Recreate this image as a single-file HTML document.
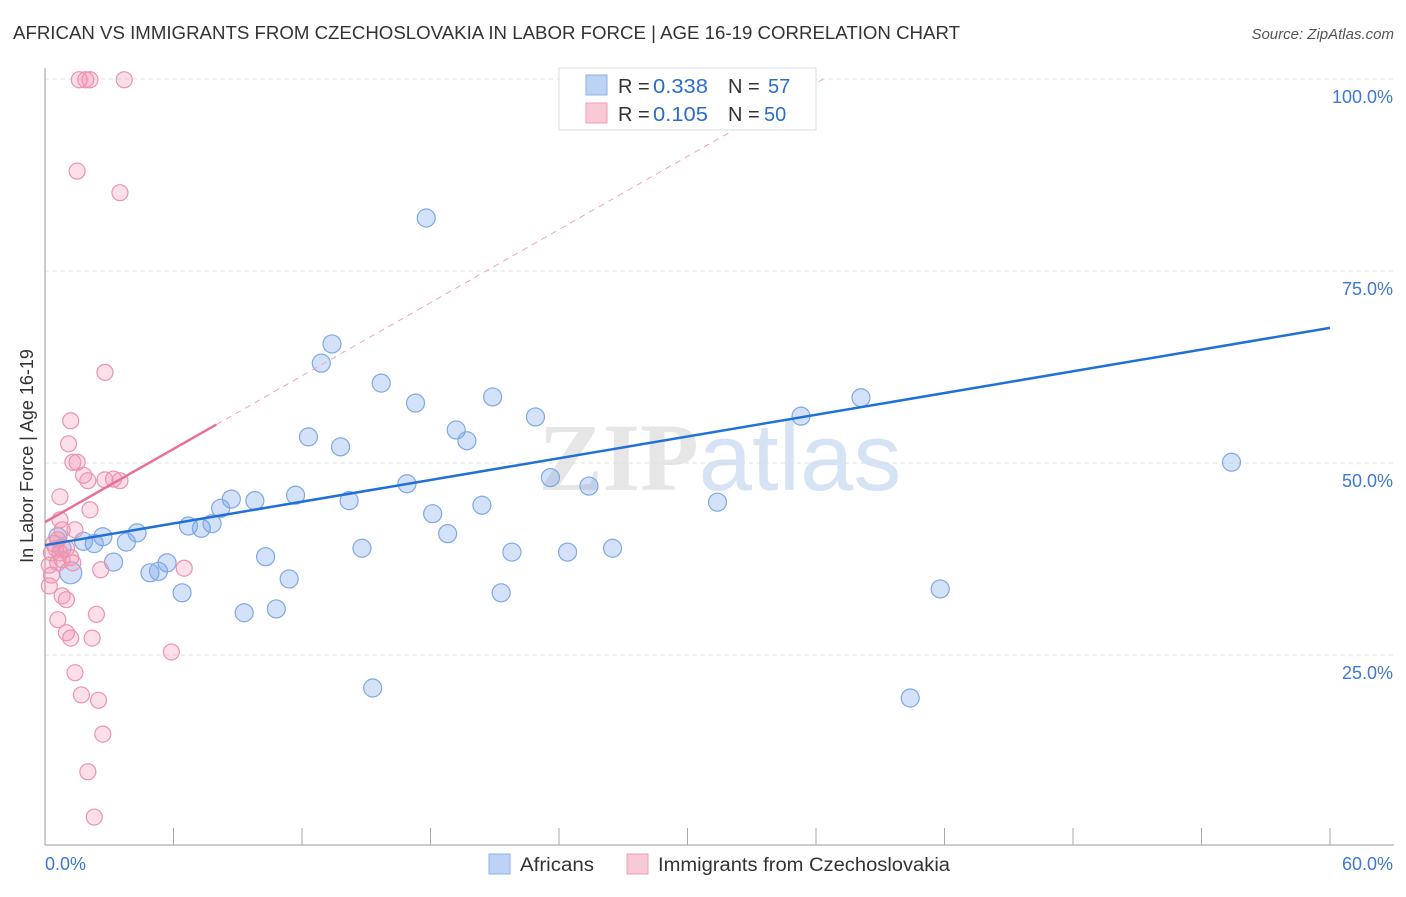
<!DOCTYPE html>
<html><head><meta charset="utf-8"><style>
body{margin:0;background:#fff;font-family:"Liberation Sans",sans-serif;}
</style></head><body>
<svg id="chart" width="1406" height="892" xmlns="http://www.w3.org/2000/svg" font-family="Liberation Sans, sans-serif">
<text x="13" y="39" font-size="18" fill="#333" textLength="947" lengthAdjust="spacingAndGlyphs">AFRICAN VS IMMIGRANTS FROM CZECHOSLOVAKIA IN LABOR FORCE | AGE 16-19 CORRELATION CHART</text>
<text x="1394" y="39" font-size="15" fill="#555" text-anchor="end" font-style="italic">Source: ZipAtlas.com</text>
<text x="720" y="490" font-size="96" text-anchor="middle" fill="#e6e6e6" font-family="Liberation Serif, serif" font-weight="bold">ZIP<tspan fill="#d5e3f5" font-family="Liberation Sans, sans-serif" font-weight="normal">atlas</tspan></text>
<g id="grid"></g>
<g id="axes"></g>
<g id="marks"></g>
<text transform="translate(33,456) rotate(-90)" font-size="18" fill="#333" text-anchor="middle">In Labor Force | Age 16-19</text>
<g>
<rect x="559" y="68" width="257" height="62" fill="#fff" stroke="#ddd"/>
<rect x="586" y="75" width="21" height="20" fill="#bcd3f5" stroke="#8fb2ea"/>
<text x="618" y="93" font-size="20" fill="#333">R =</text>
<text x="653" y="93" font-size="20" fill="#2a6dd0" textLength="55" lengthAdjust="spacingAndGlyphs">0.338</text>
<text x="728" y="93" font-size="20" fill="#333">N =</text>
<text x="768" y="93" font-size="20" fill="#2a6dd0">57</text>
<rect x="586" y="103" width="21" height="20" fill="#f9c9d6" stroke="#ef9db5"/>
<text x="618" y="121" font-size="20" fill="#333">R =</text>
<text x="653" y="121" font-size="20" fill="#2a6dd0" textLength="55" lengthAdjust="spacingAndGlyphs">0.105</text>
<text x="728" y="121" font-size="20" fill="#333">N =</text>
<text x="764" y="121" font-size="20" fill="#2a6dd0">50</text>
</g>
<g>
<rect x="489" y="854" width="21" height="20" fill="#bcd3f5" stroke="#8fb2ea"/>
<text x="520" y="871" font-size="19" fill="#333" textLength="74" lengthAdjust="spacingAndGlyphs">Africans</text>
<rect x="627" y="854" width="21" height="20" fill="#f9c9d6" stroke="#ef9db5"/>
<text x="658" y="871" font-size="19" fill="#333" textLength="292" lengthAdjust="spacingAndGlyphs">Immigrants from Czechoslovakia</text>
</g>
</svg>
<script>
const yTicks=[25,50,75,100];
const yTickLabels=["25.0%","50.0%","75.0%","100.0%"];
const xTickLabels=["0.0%","60.0%"];
const blueX=[25.7,34.2,34.8,17.8,13.4,12.9,15.7,17.3,20.9,22.9,38.1,35.3,12.3,19.2,19.7,13.8,55.4,23.6,25.4,16.9,11.7,9.8,8.7,8.2,14.2,20.4,31.4,18.1,6.7,7.3,7.8,18.8,4.3,2.7,3.8,2.3,1.8,0.6,14.8,21.8,24.4,26.5,10.3,3.2,5.7,1.2,4.9,5.3,11.4,6.4,41.8,21.3,9.3,10.8,15.3,40.4,0.8];
const blueY=[99.3,99.9,99.6,81.9,65.5,63.0,60.4,57.8,58.6,56.0,58.5,56.1,53.4,54.3,52.9,52.1,50.1,48.1,47.0,47.3,45.8,45.1,45.3,44.1,45.1,44.5,44.9,43.4,41.8,41.5,42.1,40.8,40.9,40.4,39.7,39.5,39.8,40.4,38.9,38.4,38.4,38.9,37.8,37.1,37.0,35.7,35.7,35.9,34.9,33.1,33.6,33.1,30.5,31.0,20.7,19.4,38.9];
const pinkX=[1.6,1.9,2.1,3.7,1.5,3.5,2.8,1.2,1.1,1.3,1.5,1.8,2.0,2.8,3.2,3.5,0.7,2.1,0.7,0.8,1.4,0.6,0.5,0.3,0.7,1.0,1.2,0.6,0.8,0.2,1.3,2.6,6.5,0.3,0.2,0.8,1.0,2.4,0.6,1.0,1.2,2.2,5.9,1.4,1.7,2.5,2.7,2.0,2.3,0.4];
const pinkY=[99.9,99.9,99.9,99.9,88.0,85.2,61.8,55.5,52.5,50.1,50.1,48.4,47.7,47.8,47.9,47.7,45.6,43.9,42.6,41.3,41.3,40.0,38.9,38.3,38.3,38.9,37.7,37.0,37.4,36.7,37.0,36.1,36.3,35.4,34.0,32.7,32.2,30.3,29.6,27.9,27.2,27.2,25.4,22.7,19.8,19.1,14.7,9.8,3.9,39.5];
const blueFit=[39.3,67.6];
const pinkFit=[42.3,55.0];
const pinkFitEnd=8.0;
const NS="http://www.w3.org/2000/svg";
const X0=45,X1=1330,YB=847,YT=79;
const xs=v=>X0+(v/60)*(X1-X0);
const ys=v=>YB-(v/100)*(YB-YT);
function mk(tag,attrs,parent){const e=document.createElementNS(NS,tag);for(const k in attrs)e.setAttribute(k,attrs[k]);parent.appendChild(e);return e;}
const grid=document.getElementById('grid'),axes=document.getElementById('axes'),marks=document.getElementById('marks');
yTicks.forEach((t,i)=>{
 const l=mk('line',{x1:X0,x2:1394,y1:ys(t),y2:ys(t),stroke:'#ddd','stroke-dasharray':'4,4'},grid);
 
 
 const tx=mk('text',{x:1393,y:ys(t)+24,'font-size':18,fill:'#3b78d8','text-anchor':'end'},axes);
 tx.textContent=yTickLabels[i];
 
 
});
const la=mk('line',{x1:X0,x2:X0,y1:68,y2:845,stroke:'#999'},axes);


const ba=mk('line',{x1:X0,x2:1394,y1:845,y2:845,stroke:'#999'},axes);


for(let i=1;i<=10;i++){const t=mk('line',{x1:xs(i*6),x2:xs(i*6),y1:828,y2:845,stroke:'#aaa'},axes);
 
 }
const xl0=mk('text',{x:45,y:870,'font-size':18,fill:'#3b78d8'},axes);xl0.textContent=xTickLabels[0];


const xl1=mk('text',{x:1393,y:870,'font-size':18,fill:'#3b78d8','text-anchor':'end'},axes);xl1.textContent=xTickLabels[1];


blueX.forEach((v,i)=>{const c=mk('circle',{cx:xs(v),cy:ys(blueY[i]),r:(i==45?11:9),fill:'rgba(110,160,232,0.3)',stroke:'#7fa8e6','stroke-width':1.2},marks);
 
 });
pinkX.forEach((v,i)=>{const c=mk('circle',{cx:xs(v),cy:ys(pinkY[i]),r:8,fill:'rgba(244,150,178,0.3)',stroke:'#ec93ae','stroke-width':1.2},marks);
 
 });
const slope=(pinkFit[1]-pinkFit[0])/pinkFitEnd;
const xEnd=(100-pinkFit[0])/slope;
const pd=mk('line',{x1:xs(pinkFitEnd),y1:ys(pinkFit[1]),x2:xs(xEnd),y2:ys(100),stroke:'#eba5bb','stroke-dasharray':'6,5'},marks);


const pl=mk('line',{x1:xs(0),y1:ys(pinkFit[0]),x2:xs(pinkFitEnd),y2:ys(pinkFit[1]),stroke:'#e8709a','stroke-width':2.5},marks);


const bl=mk('line',{x1:xs(0),y1:ys(blueFit[0]),x2:xs(60),y2:ys(blueFit[1]),stroke:'#2070d8','stroke-width':2.5},marks);


</script>
</body></html>
